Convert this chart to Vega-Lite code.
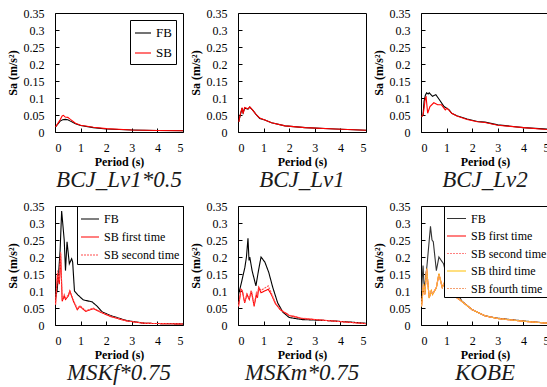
{
"$schema":"https://vega.github.io/schema/vega-lite/v6.json",
"padding":{"left":5,"top":6,"right":2,"bottom":2},
"background":"white",
"config":{
 "view":{"stroke":"black","strokeWidth":1},
 "axis":{"labelFont":"Times New Roman, serif","labelFontSize":12,"labelColor":"black","titleFont":"Times New Roman, serif","titleFontSize":12,"titleFontWeight":"bold","titleColor":"black","grid":false,"domain":false,"tickColor":"black","tickSize":-4},
 "title":{"orient":"bottom","font":"Times New Roman, serif","fontSize":23,"fontStyle":"italic","fontWeight":"normal","color":"#1a1a1a","offset":2},
 "legend":{"labelFont":"Times New Roman, serif","labelColor":"black","strokeColor":"black","fillColor":"white","symbolType":"stroke","title":null,"orient":"top-right"},
 "line":{"strokeWidth":1.1}
},
"datasets":{
"a":[{"s":"FB","t":0.02,"v":0.015},{"s":"FB","t":0.1,"v":0.022},{"s":"FB","t":0.2,"v":0.032},{"s":"FB","t":0.3,"v":0.036},{"s":"FB","t":0.4,"v":0.037},{"s":"FB","t":0.5,"v":0.036},{"s":"FB","t":0.6,"v":0.032},{"s":"FB","t":0.8,"v":0.024},{"s":"FB","t":1,"v":0.019},{"s":"FB","t":1.5,"v":0.013},{"s":"FB","t":2,"v":0.009},{"s":"FB","t":3,"v":0.006},{"s":"FB","t":4,"v":0.0045},{"s":"FB","t":5,"v":0.0035},
{"s":"SB","t":0.02,"v":0.015},{"s":"SB","t":0.1,"v":0.024},{"s":"SB","t":0.2,"v":0.036},{"s":"SB","t":0.28,"v":0.047},{"s":"SB","t":0.33,"v":0.049},{"s":"SB","t":0.4,"v":0.044},{"s":"SB","t":0.5,"v":0.043},{"s":"SB","t":0.6,"v":0.037},{"s":"SB","t":0.8,"v":0.026},{"s":"SB","t":1,"v":0.02},{"s":"SB","t":1.5,"v":0.014},{"s":"SB","t":2,"v":0.01},{"s":"SB","t":3,"v":0.006},{"s":"SB","t":4,"v":0.0045},{"s":"SB","t":5,"v":0.0035}],
"b":[{"s":"FB","t":0.03,"v":0.03},{"s":"FB","t":0.09,"v":0.05},{"s":"FB","t":0.16,"v":0.07},{"s":"FB","t":0.2,"v":0.056},{"s":"FB","t":0.26,"v":0.07},{"s":"FB","t":0.39,"v":0.067},{"s":"FB","t":0.46,"v":0.073},{"s":"FB","t":0.59,"v":0.063},{"s":"FB","t":0.72,"v":0.05},{"s":"FB","t":0.85,"v":0.04},{"s":"FB","t":1.05,"v":0.035},{"s":"FB","t":1.31,"v":0.027},{"s":"FB","t":1.84,"v":0.018},{"s":"FB","t":2.62,"v":0.013},{"s":"FB","t":3.8,"v":0.009},{"s":"FB","t":5,"v":0.005},
{"s":"SB","t":0.03,"v":0.03},{"s":"SB","t":0.09,"v":0.052},{"s":"SB","t":0.16,"v":0.072},{"s":"SB","t":0.2,"v":0.054},{"s":"SB","t":0.26,"v":0.072},{"s":"SB","t":0.39,"v":0.068},{"s":"SB","t":0.46,"v":0.074},{"s":"SB","t":0.59,"v":0.063},{"s":"SB","t":0.72,"v":0.05},{"s":"SB","t":0.85,"v":0.041},{"s":"SB","t":1.05,"v":0.035},{"s":"SB","t":1.31,"v":0.027},{"s":"SB","t":1.84,"v":0.018},{"s":"SB","t":2.62,"v":0.013},{"s":"SB","t":3.8,"v":0.009},{"s":"SB","t":5,"v":0.005}],
"c":[{"s":"FB","t":0.02,"v":0.045},{"s":"FB","t":0.08,"v":0.05},{"s":"FB","t":0.12,"v":0.09},{"s":"FB","t":0.17,"v":0.108},{"s":"FB","t":0.22,"v":0.115},{"s":"FB","t":0.28,"v":0.112},{"s":"FB","t":0.32,"v":0.115},{"s":"FB","t":0.45,"v":0.105},{"s":"FB","t":0.58,"v":0.11},{"s":"FB","t":0.72,"v":0.095},{"s":"FB","t":0.9,"v":0.075},{"s":"FB","t":1.1,"v":0.065},{"s":"FB","t":1.2,"v":0.055},{"s":"FB","t":1.4,"v":0.048},{"s":"FB","t":1.8,"v":0.038},{"s":"FB","t":2.2,"v":0.031},{"s":"FB","t":2.5,"v":0.029},{"s":"FB","t":3,"v":0.021},{"s":"FB","t":4,"v":0.013},{"s":"FB","t":5,"v":0.008},
{"s":"SB","t":0.02,"v":0.045},{"s":"SB","t":0.08,"v":0.05},{"s":"SB","t":0.12,"v":0.07},{"s":"SB","t":0.17,"v":0.1},{"s":"SB","t":0.2,"v":0.103},{"s":"SB","t":0.26,"v":0.055},{"s":"SB","t":0.35,"v":0.075},{"s":"SB","t":0.5,"v":0.086},{"s":"SB","t":0.65,"v":0.08},{"s":"SB","t":0.8,"v":0.08},{"s":"SB","t":0.95,"v":0.065},{"s":"SB","t":1.02,"v":0.07},{"s":"SB","t":1.2,"v":0.055},{"s":"SB","t":1.4,"v":0.047},{"s":"SB","t":1.8,"v":0.037},{"s":"SB","t":2.2,"v":0.03},{"s":"SB","t":2.5,"v":0.028},{"s":"SB","t":3,"v":0.02},{"s":"SB","t":4,"v":0.013},{"s":"SB","t":5,"v":0.007}],
"d":[{"s":"FB","t":0.02,"v":0.08},{"s":"FB","t":0.08,"v":0.1},{"s":"FB","t":0.14,"v":0.15},{"s":"FB","t":0.2,"v":0.22},{"s":"FB","t":0.26,"v":0.335},{"s":"FB","t":0.36,"v":0.25},{"s":"FB","t":0.41,"v":0.16},{"s":"FB","t":0.47,"v":0.245},{"s":"FB","t":0.56,"v":0.18},{"s":"FB","t":0.65,"v":0.195},{"s":"FB","t":0.69,"v":0.185},{"s":"FB","t":0.76,"v":0.1},{"s":"FB","t":0.9,"v":0.088},{"s":"FB","t":1.1,"v":0.074},{"s":"FB","t":1.45,"v":0.068},{"s":"FB","t":1.65,"v":0.055},{"s":"FB","t":1.85,"v":0.038},{"s":"FB","t":2.2,"v":0.027},{"s":"FB","t":2.8,"v":0.013},{"s":"FB","t":3.5,"v":0.005},{"s":"FB","t":5,"v":0.003},
{"s":"SB first time","t":0.02,"v":0.06},{"s":"SB first time","t":0.1,"v":0.15},{"s":"SB first time","t":0.17,"v":0.12},{"s":"SB first time","t":0.22,"v":0.21},{"s":"SB first time","t":0.28,"v":0.07},{"s":"SB first time","t":0.36,"v":0.085},{"s":"SB first time","t":0.41,"v":0.075},{"s":"SB first time","t":0.52,"v":0.085},{"s":"SB first time","t":0.58,"v":0.1},{"s":"SB first time","t":0.72,"v":0.07},{"s":"SB first time","t":0.87,"v":0.045},{"s":"SB first time","t":0.97,"v":0.055},{"s":"SB first time","t":1.2,"v":0.04},{"s":"SB first time","t":1.5,"v":0.048},{"s":"SB first time","t":1.8,"v":0.037},{"s":"SB first time","t":2.2,"v":0.024},{"s":"SB first time","t":2.8,"v":0.012},{"s":"SB first time","t":3.5,"v":0.005},{"s":"SB first time","t":5,"v":0.003},
{"s":"SB second time","t":0.02,"v":0.06},{"s":"SB second time","t":0.1,"v":0.16},{"s":"SB second time","t":0.17,"v":0.13},{"s":"SB second time","t":0.22,"v":0.215},{"s":"SB second time","t":0.28,"v":0.075},{"s":"SB second time","t":0.36,"v":0.09},{"s":"SB second time","t":0.41,"v":0.08},{"s":"SB second time","t":0.52,"v":0.088},{"s":"SB second time","t":0.58,"v":0.1},{"s":"SB second time","t":0.72,"v":0.073},{"s":"SB second time","t":0.87,"v":0.048},{"s":"SB second time","t":0.97,"v":0.057},{"s":"SB second time","t":1.2,"v":0.042},{"s":"SB second time","t":1.5,"v":0.05},{"s":"SB second time","t":1.8,"v":0.038},{"s":"SB second time","t":2.2,"v":0.025},{"s":"SB second time","t":2.8,"v":0.012},{"s":"SB second time","t":3.5,"v":0.005},{"s":"SB second time","t":5,"v":0.003}],
"e":[{"s":"FB","t":0.02,"v":0.09},{"s":"FB","t":0.12,"v":0.12},{"s":"FB","t":0.27,"v":0.17},{"s":"FB","t":0.33,"v":0.2},{"s":"FB","t":0.39,"v":0.255},{"s":"FB","t":0.43,"v":0.19},{"s":"FB","t":0.46,"v":0.2},{"s":"FB","t":0.55,"v":0.16},{"s":"FB","t":0.7,"v":0.115},{"s":"FB","t":0.8,"v":0.16},{"s":"FB","t":0.9,"v":0.2},{"s":"FB","t":1.05,"v":0.185},{"s":"FB","t":1.2,"v":0.155},{"s":"FB","t":1.36,"v":0.11},{"s":"FB","t":1.55,"v":0.065},{"s":"FB","t":1.75,"v":0.038},{"s":"FB","t":2,"v":0.022},{"s":"FB","t":2.5,"v":0.016},{"s":"FB","t":3.5,"v":0.013},{"s":"FB","t":4.5,"v":0.008},{"s":"FB","t":5,"v":0.005},
{"s":"SB first time","t":0.02,"v":0.055},{"s":"SB first time","t":0.12,"v":0.105},{"s":"SB first time","t":0.17,"v":0.1},{"s":"SB first time","t":0.26,"v":0.065},{"s":"SB first time","t":0.35,"v":0.09},{"s":"SB first time","t":0.44,"v":0.075},{"s":"SB first time","t":0.52,"v":0.1},{"s":"SB first time","t":0.63,"v":0.055},{"s":"SB first time","t":0.72,"v":0.09},{"s":"SB first time","t":0.76,"v":0.08},{"s":"SB first time","t":0.81,"v":0.11},{"s":"SB first time","t":0.9,"v":0.095},{"s":"SB first time","t":1.18,"v":0.105},{"s":"SB first time","t":1.3,"v":0.09},{"s":"SB first time","t":1.46,"v":0.063},{"s":"SB first time","t":1.65,"v":0.045},{"s":"SB first time","t":2,"v":0.028},{"s":"SB first time","t":2.5,"v":0.019},{"s":"SB first time","t":3.5,"v":0.013},{"s":"SB first time","t":4.5,"v":0.007},{"s":"SB first time","t":5,"v":0.004},
{"s":"SB second time","t":0.02,"v":0.055},{"s":"SB second time","t":0.12,"v":0.105},{"s":"SB second time","t":0.17,"v":0.1},{"s":"SB second time","t":0.26,"v":0.067},{"s":"SB second time","t":0.35,"v":0.092},{"s":"SB second time","t":0.44,"v":0.078},{"s":"SB second time","t":0.52,"v":0.102},{"s":"SB second time","t":0.63,"v":0.06},{"s":"SB second time","t":0.72,"v":0.095},{"s":"SB second time","t":0.76,"v":0.088},{"s":"SB second time","t":0.81,"v":0.112},{"s":"SB second time","t":0.9,"v":0.102},{"s":"SB second time","t":1.18,"v":0.115},{"s":"SB second time","t":1.3,"v":0.095},{"s":"SB second time","t":1.46,"v":0.065},{"s":"SB second time","t":1.65,"v":0.046},{"s":"SB second time","t":2,"v":0.029},{"s":"SB second time","t":2.5,"v":0.02},{"s":"SB second time","t":3.5,"v":0.013},{"s":"SB second time","t":4.5,"v":0.007},{"s":"SB second time","t":5,"v":0.004}],
"f":[{"s":"FB","t":0.02,"v":0.1},{"s":"FB","t":0.08,"v":0.175},{"s":"FB","t":0.13,"v":0.1},{"s":"FB","t":0.24,"v":0.18},{"s":"FB","t":0.37,"v":0.29},{"s":"FB","t":0.43,"v":0.25},{"s":"FB","t":0.48,"v":0.245},{"s":"FB","t":0.6,"v":0.16},{"s":"FB","t":0.7,"v":0.2},{"s":"FB","t":0.88,"v":0.18},{"s":"FB","t":1,"v":0.145},{"s":"FB","t":1.2,"v":0.09},{"s":"FB","t":1.28,"v":0.085},{"s":"FB","t":1.4,"v":0.095},{"s":"FB","t":1.6,"v":0.07},{"s":"FB","t":2,"v":0.045},{"s":"FB","t":2.5,"v":0.027},{"s":"FB","t":3,"v":0.02},{"s":"FB","t":4,"v":0.012},{"s":"FB","t":5,"v":0.005},
{"s":"SB first time","t":0.02,"v":0.055},{"s":"SB first time","t":0.1,"v":0.12},{"s":"SB first time","t":0.15,"v":0.09},{"s":"SB first time","t":0.22,"v":0.165},{"s":"SB first time","t":0.32,"v":0.08},{"s":"SB first time","t":0.4,"v":0.1},{"s":"SB first time","t":0.45,"v":0.09},{"s":"SB first time","t":0.6,"v":0.11},{"s":"SB first time","t":0.7,"v":0.15},{"s":"SB first time","t":0.83,"v":0.11},{"s":"SB first time","t":0.93,"v":0.127},{"s":"SB first time","t":1.2,"v":0.09},{"s":"SB first time","t":1.5,"v":0.075},{"s":"SB first time","t":2,"v":0.045},{"s":"SB first time","t":2.5,"v":0.027},{"s":"SB first time","t":3,"v":0.019},{"s":"SB first time","t":4,"v":0.011},{"s":"SB first time","t":5,"v":0.005},
{"s":"SB second time","t":0.02,"v":0.056},{"s":"SB second time","t":0.1,"v":0.118},{"s":"SB second time","t":0.15,"v":0.092},{"s":"SB second time","t":0.22,"v":0.162},{"s":"SB second time","t":0.32,"v":0.082},{"s":"SB second time","t":0.4,"v":0.1},{"s":"SB second time","t":0.45,"v":0.092},{"s":"SB second time","t":0.6,"v":0.11},{"s":"SB second time","t":0.7,"v":0.148},{"s":"SB second time","t":0.83,"v":0.112},{"s":"SB second time","t":0.93,"v":0.126},{"s":"SB second time","t":1.2,"v":0.09},{"s":"SB second time","t":1.5,"v":0.075},{"s":"SB second time","t":2,"v":0.045},{"s":"SB second time","t":2.5,"v":0.027},{"s":"SB second time","t":3,"v":0.019},{"s":"SB second time","t":4,"v":0.011},{"s":"SB second time","t":5,"v":0.005},
{"s":"SB third time","t":0.02,"v":0.054},{"s":"SB third time","t":0.1,"v":0.121},{"s":"SB third time","t":0.15,"v":0.09},{"s":"SB third time","t":0.22,"v":0.166},{"s":"SB third time","t":0.32,"v":0.079},{"s":"SB third time","t":0.4,"v":0.101},{"s":"SB third time","t":0.45,"v":0.09},{"s":"SB third time","t":0.6,"v":0.109},{"s":"SB third time","t":0.7,"v":0.151},{"s":"SB third time","t":0.83,"v":0.11},{"s":"SB third time","t":0.93,"v":0.128},{"s":"SB third time","t":1.2,"v":0.09},{"s":"SB third time","t":1.5,"v":0.075},{"s":"SB third time","t":2,"v":0.045},{"s":"SB third time","t":2.5,"v":0.027},{"s":"SB third time","t":3,"v":0.019},{"s":"SB third time","t":4,"v":0.011},{"s":"SB third time","t":5,"v":0.005},
{"s":"SB fourth time","t":0.02,"v":0.055},{"s":"SB fourth time","t":0.1,"v":0.12},{"s":"SB fourth time","t":0.15,"v":0.091},{"s":"SB fourth time","t":0.22,"v":0.164},{"s":"SB fourth time","t":0.32,"v":0.081},{"s":"SB fourth time","t":0.4,"v":0.1},{"s":"SB fourth time","t":0.45,"v":0.091},{"s":"SB fourth time","t":0.6,"v":0.11},{"s":"SB fourth time","t":0.7,"v":0.149},{"s":"SB fourth time","t":0.83,"v":0.111},{"s":"SB fourth time","t":0.93,"v":0.127},{"s":"SB fourth time","t":1.2,"v":0.09},{"s":"SB fourth time","t":1.5,"v":0.075},{"s":"SB fourth time","t":2,"v":0.045},{"s":"SB fourth time","t":2.5,"v":0.027},{"s":"SB fourth time","t":3,"v":0.019},{"s":"SB fourth time","t":4,"v":0.011},{"s":"SB fourth time","t":5,"v":0.005}]
},
"columns":3,
"spacing":{"row":74,"column":55},
"bounds":"flush",
"resolve":{"scale":{"color":"independent","strokeDash":"independent","x":"independent","y":"independent"},"legend":{"color":"independent","strokeDash":"independent"}},
"concat":[
{"width":128,"height":119,"title":"BCJ_Lv1*0.5","data":{"name":"a"},"mark":{"type":"line"},
 "encoding":{
  "x":{"field":"t","type":"quantitative","scale":{"domain":[0,5]},"axis":{"values":[0,1,2,3,4,5],"title":"Period (s)","labelPadding":14,"titlePadding":3}},
  "y":{"field":"v","type":"quantitative","scale":{"domain":[0,0.35]},"axis":{"values":[0,0.05,0.1,0.15,0.2,0.25,0.3,0.35],"format":"~g","title":"Sa (m/s²)","labelPadding":15,"titlePadding":4}},
  "color":{"field":"s","type":"nominal","scale":{"domain":["FB","SB"],"range":["#000000","#ff0000"]},"legend":{"offset":7,"labelFontSize":13,"rowPadding":4,"padding":4,"symbolSize":256,"symbolStrokeWidth":1.2}}
 }},
{"width":128,"height":119,"title":"BCJ_Lv1","data":{"name":"b"},"mark":{"type":"line"},
 "encoding":{
  "x":{"field":"t","type":"quantitative","scale":{"domain":[0,5]},"axis":{"values":[0,1,2,3,4,5],"title":"Period (s)","labelPadding":14,"titlePadding":3}},
  "y":{"field":"v","type":"quantitative","scale":{"domain":[0,0.35]},"axis":{"values":[0,0.05,0.1,0.15,0.2,0.25,0.3,0.35],"format":"~g","title":"Sa (m/s²)","labelPadding":15,"titlePadding":4}},
  "color":{"field":"s","type":"nominal","scale":{"domain":["FB","SB"],"range":["#000000","#ff0000"]},"legend":null}
 }},
{"width":128,"height":119,"title":"BCJ_Lv2","data":{"name":"c"},"mark":{"type":"line"},
 "encoding":{
  "x":{"field":"t","type":"quantitative","scale":{"domain":[0,5]},"axis":{"values":[0,1,2,3,4,5],"title":"Period (s)","labelPadding":14,"titlePadding":3}},
  "y":{"field":"v","type":"quantitative","scale":{"domain":[0,0.35]},"axis":{"values":[0,0.05,0.1,0.15,0.2,0.25,0.3,0.35],"format":"~g","title":"Sa (m/s²)","labelPadding":15,"titlePadding":4}},
  "color":{"field":"s","type":"nominal","scale":{"domain":["FB","SB"],"range":["#000000","#ff0000"]},"legend":null}
 }},
{"width":128,"height":119,"title":"MSKf*0.75","data":{"name":"d"},"mark":{"type":"line"},
 "encoding":{
  "x":{"field":"t","type":"quantitative","scale":{"domain":[0,5]},"axis":{"values":[0,1,2,3,4,5],"title":"Period (s)","labelPadding":14,"titlePadding":3}},
  "y":{"field":"v","type":"quantitative","scale":{"domain":[0,0.35]},"axis":{"values":[0,0.05,0.1,0.15,0.2,0.25,0.3,0.35],"format":"~g","title":"Sa (m/s²)","labelPadding":15,"titlePadding":4}},
  "color":{"field":"s","type":"nominal","scale":{"domain":["FB","SB first time","SB second time"],"range":["#000000","#ff0000","#ff4d4d"]},"legend":{"offset":0,"labelFontSize":12,"rowPadding":2,"padding":3,"symbolSize":324,"symbolStrokeWidth":1.2}},
  "strokeDash":{"field":"s","type":"nominal","scale":{"domain":["FB","SB first time","SB second time"],"range":[[1,0],[1,0],[2,1]]},"legend":{"offset":0,"labelFontSize":12,"rowPadding":2,"padding":3,"symbolSize":324,"symbolStrokeWidth":1.2}}
 }},
{"width":128,"height":119,"title":"MSKm*0.75","data":{"name":"e"},"mark":{"type":"line"},
 "encoding":{
  "x":{"field":"t","type":"quantitative","scale":{"domain":[0,5]},"axis":{"values":[0,1,2,3,4,5],"title":"Period (s)","labelPadding":14,"titlePadding":3}},
  "y":{"field":"v","type":"quantitative","scale":{"domain":[0,0.35]},"axis":{"values":[0,0.05,0.1,0.15,0.2,0.25,0.3,0.35],"format":"~g","title":"Sa (m/s²)","labelPadding":15,"titlePadding":4}},
  "color":{"field":"s","type":"nominal","scale":{"domain":["FB","SB first time","SB second time"],"range":["#000000","#ff0000","#ff4d4d"]},"legend":null},
  "strokeDash":{"field":"s","type":"nominal","scale":{"domain":["FB","SB first time","SB second time"],"range":[[1,0],[1,0],[2,1]]},"legend":null}
 }},
{"width":128,"height":119,"title":"KOBE","data":{"name":"f"},"mark":{"type":"line"},
 "encoding":{
  "x":{"field":"t","type":"quantitative","scale":{"domain":[0,5]},"axis":{"values":[0,1,2,3,4,5],"title":"Period (s)","labelPadding":14,"titlePadding":3}},
  "y":{"field":"v","type":"quantitative","scale":{"domain":[0,0.35]},"axis":{"values":[0,0.05,0.1,0.15,0.2,0.25,0.3,0.35],"format":"~g","title":"Sa (m/s²)","labelPadding":15,"titlePadding":4}},
  "color":{"field":"s","type":"nominal","scale":{"domain":["FB","SB first time","SB second time","SB third time","SB fourth time"],"range":["#333333","#ff0000","#ff8080","#ffc000","#f4a070"]},"legend":{"offset":0,"labelFontSize":12,"rowPadding":0.5,"padding":2,"symbolSize":361,"symbolStrokeWidth":1.2}},
  "strokeDash":{"field":"s","type":"nominal","scale":{"domain":["FB","SB first time","SB second time","SB third time","SB fourth time"],"range":[[1,0],[1,0],[2,1],[1,0],[2,1]]},"legend":{"offset":0,"labelFontSize":12,"rowPadding":0.5,"padding":2,"symbolSize":361,"symbolStrokeWidth":1.2}}
 }}
]
}
